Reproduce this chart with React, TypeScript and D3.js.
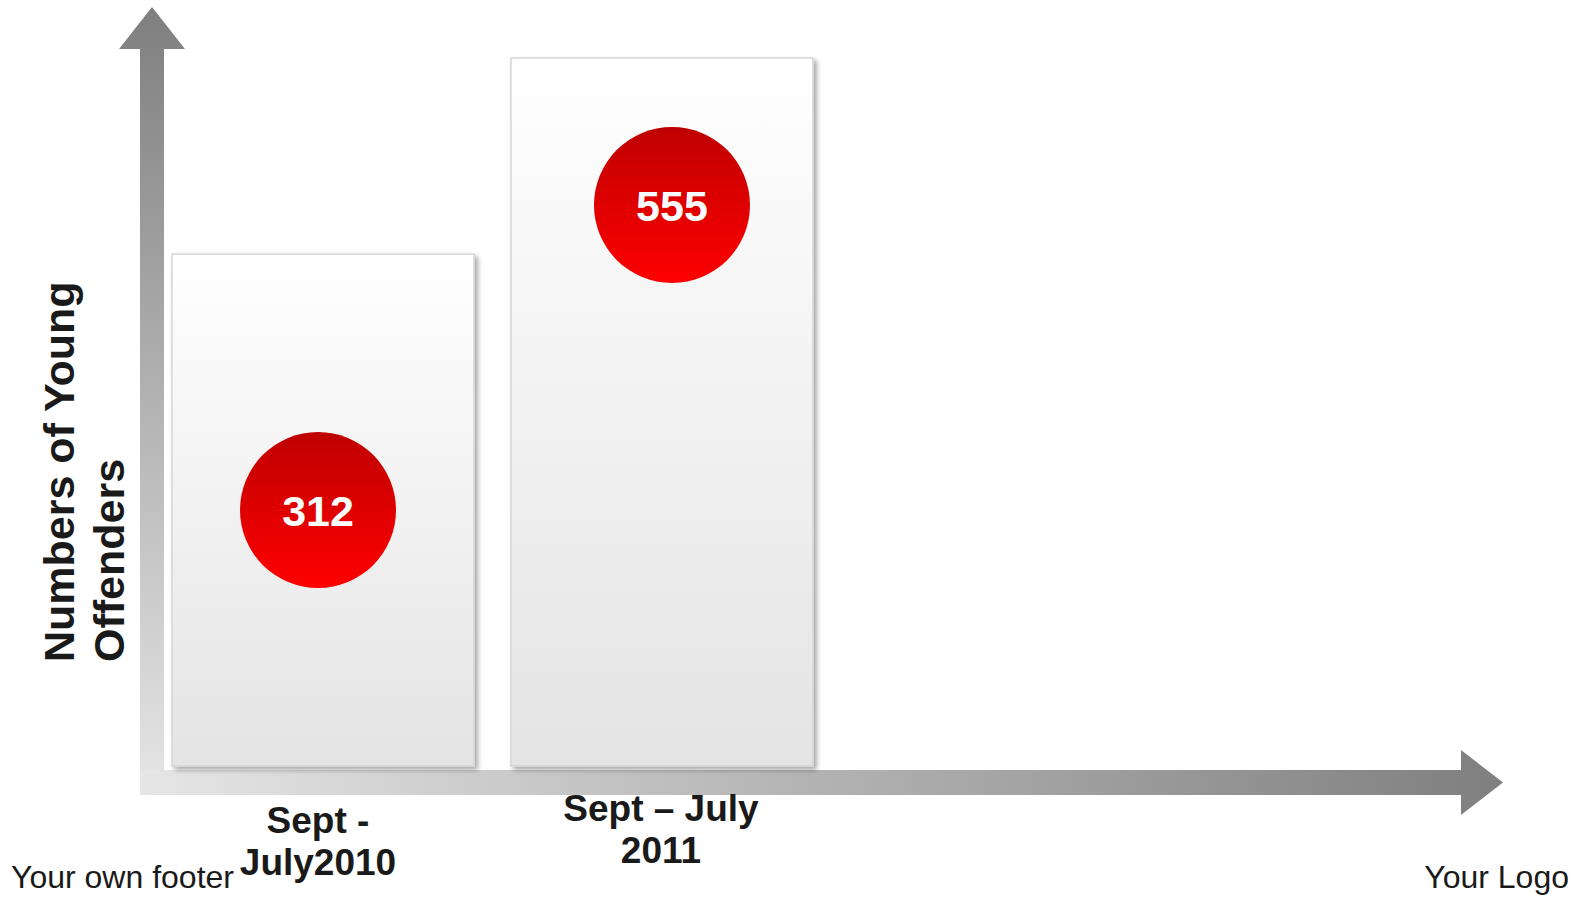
import React from 'react';
import * as d3 from 'd3';

// chart data
const categories = ['Sept -\nJuly2010', 'Sept \u2013 July\n2011'];
const offenders = [312, 555];
const yTitleLines = ['Numbers of Young', 'Offenders'];
const footerText = 'Your own footer';
const logoText = 'Your Logo';

const W = 1584;
const H = 897;
const FONT = '"Liberation Sans", Arial, Helvetica, sans-serif';

// hand-placed bits of the slide: label baselines and small nudges off the band centre
const labelBaseline = [833, 821];
const labelDx = [-5, -1];
const circleDx = [-5, 10];

const App: React.FC = () => {
  const x = d3.scaleBand<string>()
    .domain(categories)
    .range([172, 813])
    .paddingInner(0.109)
    .paddingOuter(0);

  const baseY = 766;
  // bar tops; the source slide does not start its value axis at zero
  const y = d3.scaleLinear().domain([0, 555]).range([506, 58]);
  // circle centres
  const cy = d3.scaleLinear().domain([0, 555]).range([901.6, 205]);

  // axis arrows
  const vArrow = d3.path();
  vArrow.moveTo(140, 770);
  vArrow.lineTo(140, 49);
  vArrow.lineTo(119, 49);
  vArrow.lineTo(152, 7);
  vArrow.lineTo(185, 49);
  vArrow.lineTo(164, 49);
  vArrow.lineTo(164, 770);
  vArrow.closePath();

  const hArrow = d3.path();
  hArrow.moveTo(140, 770);
  hArrow.lineTo(1461, 770);
  hArrow.lineTo(1461, 750);
  hArrow.lineTo(1503, 782.5);
  hArrow.lineTo(1461, 815);
  hArrow.lineTo(1461, 795);
  hArrow.lineTo(140, 795);
  hArrow.closePath();

  return (
    <svg
      width={W}
      height={H}
      viewBox={`0 0 ${W} ${H}`}
      style={{ position: 'absolute', left: 0, top: 0, display: 'block', background: '#fff' }}
    >
      <defs>
        <linearGradient id="vGrad" gradientUnits="userSpaceOnUse" x1="0" y1="7" x2="0" y2="795">
          <stop offset="0" stopColor="#7f7f7f" />
          <stop offset="1" stopColor="#e6e6e6" />
        </linearGradient>
        <linearGradient id="hGrad" gradientUnits="userSpaceOnUse" x1="140" y1="0" x2="1503" y2="0">
          <stop offset="0" stopColor="#e6e6e6" />
          <stop offset="1" stopColor="#7f7f7f" />
        </linearGradient>
        <linearGradient id="barGrad" x1="0" y1="0" x2="0" y2="1">
          <stop offset="0" stopColor="#ffffff" />
          <stop offset="1" stopColor="#e4e4e4" />
        </linearGradient>
        <linearGradient id="dotGrad" x1="0" y1="0" x2="0" y2="1">
          <stop offset="0" stopColor="#bf0000" />
          <stop offset="1" stopColor="#ff0000" />
        </linearGradient>
        <filter id="shadow" x="-10%" y="-10%" width="120%" height="120%">
          <feDropShadow dx="3" dy="3" stdDeviation="2.5" floodColor="#000" floodOpacity="0.35" />
        </filter>
      </defs>

      <path d={vArrow.toString()} fill="url(#vGrad)" />
      <path d={hArrow.toString()} fill="url(#hGrad)" />

      {categories.map((c, i) => {
        const bx = x(c) ?? 0;
        const bw = x.bandwidth();
        const top = y(offenders[i]);
        const mid = bx + bw / 2;
        const lines = c.split('\n');
        return (
          <g key={c}>
            <rect
              x={bx}
              y={top}
              width={bw}
              height={baseY - top}
              fill="url(#barGrad)"
              stroke="#d6d6d6"
              strokeWidth={1.5}
              filter="url(#shadow)"
            />
            <circle cx={mid + circleDx[i]} cy={cy(offenders[i])} r={78} fill="url(#dotGrad)" />
            <text
              x={mid + circleDx[i]}
              y={cy(offenders[i]) + 16}
              textAnchor="middle"
              fill="#fff"
              fontFamily={FONT}
              fontWeight="bold"
              fontSize={43}
            >
              {offenders[i]}
            </text>
            {lines.map((ln, j) => (
              <text
                key={j}
                x={mid + labelDx[i]}
                y={labelBaseline[i] + j * 42}
                textAnchor="middle"
                fill="#1a1a1a"
                fontFamily={FONT}
                fontWeight="bold"
                fontSize={37}
              >
                {ln}
              </text>
            ))}
          </g>
        );
      })}

      {yTitleLines.map((t, j) => (
        <text
          key={t}
          transform={`translate(${74 + j * 50},662) rotate(-90)`}
          textAnchor="start"
          fill="#1a1a1a"
          fontFamily={FONT}
          fontWeight="bold"
          fontSize={43}
        >
          {t}
        </text>
      ))}

      <text x={11} y={888} fill="#1a1a1a" fontFamily={FONT} fontSize={32}>
        {footerText}
      </text>
      <text x={1569} y={888} textAnchor="end" fill="#1a1a1a" fontFamily={FONT} fontSize={32}>
        {logoText}
      </text>
    </svg>
  );
};

export default App;
